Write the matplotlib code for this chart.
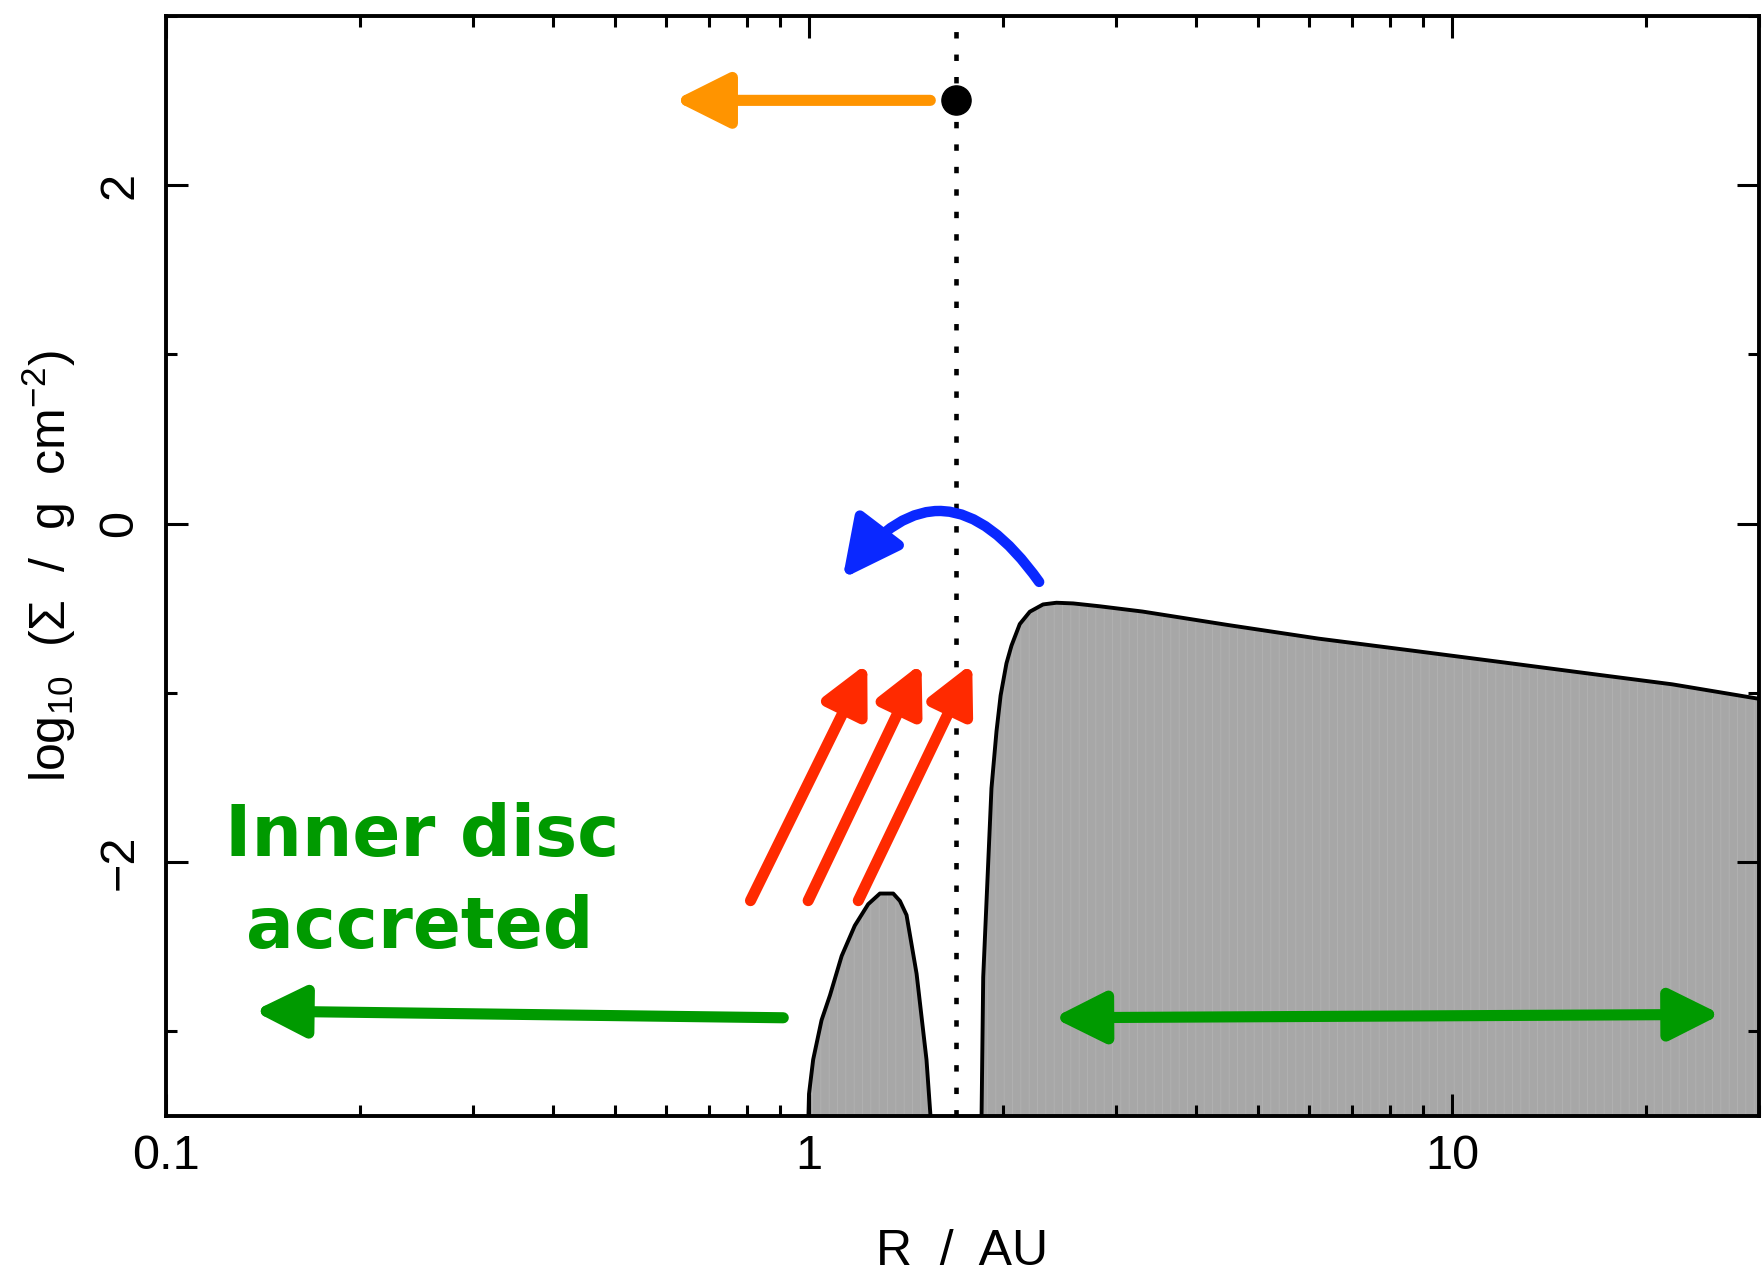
import matplotlib.pyplot as plt
from matplotlib.ticker import LogLocator, NullFormatter

plt.rcParams['font.family'] = ['Liberation Sans', 'DejaVu Sans']
plt.rcParams['mathtext.fontset'] = 'custom'
plt.rcParams['mathtext.rm'] = 'Liberation Sans'
plt.rcParams['mathtext.it'] = 'Liberation Sans:italic'
plt.rcParams['mathtext.bf'] = 'Liberation Sans:bold'
plt.rcParams['hatch.linewidth'] = 0.6

# surface density profile: R in AU, log10 Sigma
r_inner = [0.998, 1.0, 1.015, 1.046, 1.078, 1.124, 1.178, 1.236, 1.289, 1.352,
           1.385, 1.418, 1.470, 1.523, 1.545]
sig_inner = [-3.5, -3.37, -3.167, -2.934, -2.787, -2.555, -2.376, -2.249, -2.186, -2.186,
             -2.23, -2.313, -2.66, -3.167, -3.5]

r_outer = [1.855, 1.866, 1.922, 1.957, 1.986, 2.028, 2.065, 2.127, 2.205, 2.312,
           2.426, 2.575, 2.833, 3.3, 4.49, 6.2, 8.64, 12.0, 16.6, 22.0, 30.5]
sig_outer = [-3.5, -2.68, -1.564, -1.227, -1.016, -0.826, -0.721, -0.594, -0.521, -0.478,
             -0.468, -0.472, -0.489, -0.52, -0.60, -0.68, -0.75, -0.82, -0.89, -0.95, -1.04]

r_planet = 1.694
sig_planet = 2.5

# annotation arrows: (R, log Sigma) tail -> head
orange_tail, orange_head = (1.544, 2.5), (0.617, 2.5)
blue_tail, blue_head = (2.28, -0.345), (1.128, -0.325)
red_tails_r = [0.811, 0.997, 1.193]
red_heads_r = [1.232, 1.496, 1.794]
red_tail_sig, red_head_sig = -2.228, -0.826
green_tail, green_head = (0.912, -2.92), (0.137, -2.88)
green_span = ((2.40, -2.92), (26.2, -2.90))

fig = plt.figure(figsize=(17.62, 12.78), dpi=100)
ax = fig.add_axes([0.0942, 0.1268, 0.9040, 0.8609])

grey = '#a7a7a7'
ax.fill_between(r_inner, sig_inner, -3.6, facecolor=grey, edgecolor='#b2b2b2', hatch='||', lw=0)
ax.plot(r_inner, sig_inner, color='k', lw=2.8)
ax.fill_between(r_outer, sig_outer, -3.6, facecolor=grey, edgecolor='#b2b2b2', hatch='||', lw=0)
ax.plot(r_outer, sig_outer, color='k', lw=2.8)

ax.axvline(r_planet, color='k', lw=3.3, linestyle=(0, (1.4, 3.5)))
ax.plot([r_planet], [sig_planet], 'o', color='k', ms=21)

def arrow(tail, head, color, lw, ms, style='-|>', conn='arc3'):
    ax.annotate('', xy=head, xytext=tail,
                arrowprops=dict(arrowstyle=style + ',head_length=2.2,head_width=1.1',
                                color=color, lw=lw, shrinkA=0, shrinkB=0,
                                mutation_scale=ms, connectionstyle=conn))

arrow(orange_tail, orange_head, '#ff9400', 8, 15)
arrow(blue_tail, blue_head, '#0a28ff', 7.5, 16, conn='arc3,rad=0.68')
for t, h in zip(red_tails_r, red_heads_r):
    arrow((t, red_tail_sig), (h, red_head_sig), '#ff2a00', 8, 13)
arrow(green_tail, green_head, '#009a00', 8, 14)
arrow(green_span[0], green_span[1], '#009a00', 8, 14, style='<|-|>')

green_font = dict(family=['DejaVu Sans'], weight='bold', color='#009a00',
                  fontsize=51, ha='center', va='baseline')
ax.text(0.2506, -1.966, 'Inner disc', **green_font)
ax.text(0.2484, -2.507, 'accreted', **green_font)

ax.set_xscale('log')
ax.set_xlim(0.1, 30)
ax.set_ylim(-3.5, 3)
ax.set_xticks([0.1, 1, 10])
ax.set_xticklabels(['0.1', '1', '10'])
ax.xaxis.set_minor_locator(LogLocator(base=10, subs=range(2, 10)))
ax.xaxis.set_minor_formatter(NullFormatter())
ax.set_yticks([-2, 0, 2])
ax.set_yticks([-3, -1, 1, 3], minor=True)

ax.tick_params(which='both', direction='in', top=True, right=True, width=2.2, labelsize=35)
ax.tick_params(which='major', length=16)
ax.tick_params(which='minor', length=8)
ax.tick_params(axis='x', pad=13)
ax.tick_params(axis='y', pad=17, labelrotation=90)
for lab in ax.get_yticklabels():
    lab.set_va('center')
for s in ax.spines.values():
    s.set_linewidth(2.8)

ax.set_xlabel('R  /  AU', fontsize=36, labelpad=36)
ax.set_ylabel(r'log$_{10}$  (Σ  /  g  cm$^{-2}$)', fontsize=36, labelpad=14)

fig.savefig('out.png', dpi=100)
